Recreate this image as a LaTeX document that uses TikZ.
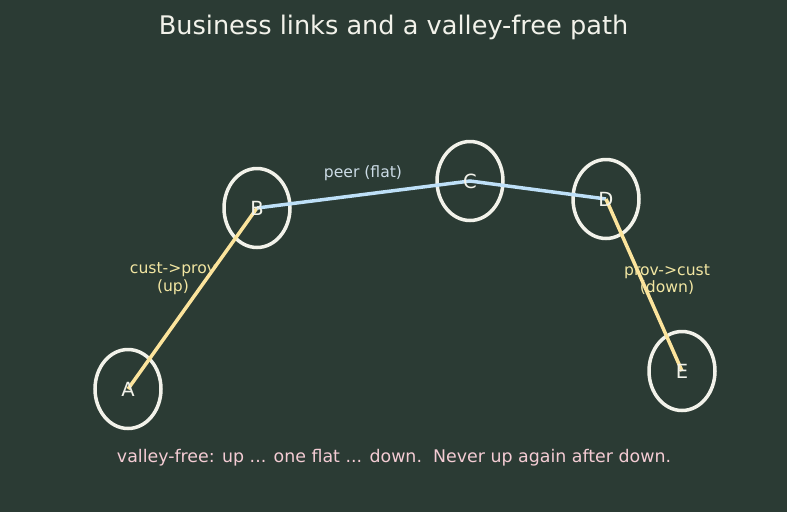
\documentclass[tikz,border=0pt]{standalone}
\usepackage{fontspec}
\setmainfont{DejaVu Sans}
\usetikzlibrary{shapes.geometric}
\definecolor{bg}{HTML}{2B3B34}
\definecolor{ring}{HTML}{F2F2EA}
\definecolor{upc}{HTML}{FCE49C}
\definecolor{peerc}{HTML}{BEE0F8}
\definecolor{uplab}{HTML}{F2E6A2}
\definecolor{peerlab}{HTML}{CCDCE6}
\definecolor{foot}{HTML}{F4CCD4}
\begin{document}
\begin{tikzpicture}[x=1pt,y=-1pt,
  asnode/.style={ellipse,draw=ring,line width=3.5pt,minimum width=66pt,minimum height=79pt,inner sep=0pt},
  asname/.style={text=ring,font=\fontsize{19.5}{19.5}\selectfont,inner sep=0pt},
  uplink/.style={draw=upc,line width=3.5pt},
  peerlink/.style={draw=peerc,line width=3.5pt},
  lab/.style={font=\fontsize{15.6}{17.5}\selectfont,align=center,inner sep=0pt}]
\fill[bg] (0,0) rectangle (787,512);
\useasboundingbox (0,0) rectangle (787,512);
\node[text=ring,font=\fontsize{25.6}{25.6}\selectfont] (title) at (393.5,27.5) {Business links and a valley-free path};
% rings
\node[asnode] (A) at (128,389) {};
\node[asnode] (B) at (257,208) {};
\node[asnode] (C) at (470,181) {};
\node[asnode] (D) at (606,199) {};
\node[asnode] (E) at (682,371) {};
% labels
\node[lab,text=uplab] (l1) at (173,278.5) {cust->prov\\(up)};
\node[lab,text=uplab] (l3) at (667,279.5) {prov->cust\\(down)};
\node[lab,text=peerlab] (l2) at (363,173) {peer (flat)};
% links
\draw[uplink] (A.center) -- (B.center);
\draw[peerlink] (B.center) -- (C.center) -- (D.center);
\draw[uplink] (D.center) -- (E.center);
% names
\node[asname] at (A) {A};
\node[asname] at (B) {B};
\node[asname] at (C) {C};
\node[asname] at (D) {D};
\node[asname] at (E) {E};
\node[text=foot,font=\fontsize{17.4}{17.4}\selectfont] (foot) at (394,457.5) {valley-free: up .\kern0pt.\kern0pt. one flat .\kern0pt.\kern0pt. down.\ \ Never up again after down.};
\end{tikzpicture}
\end{document}
